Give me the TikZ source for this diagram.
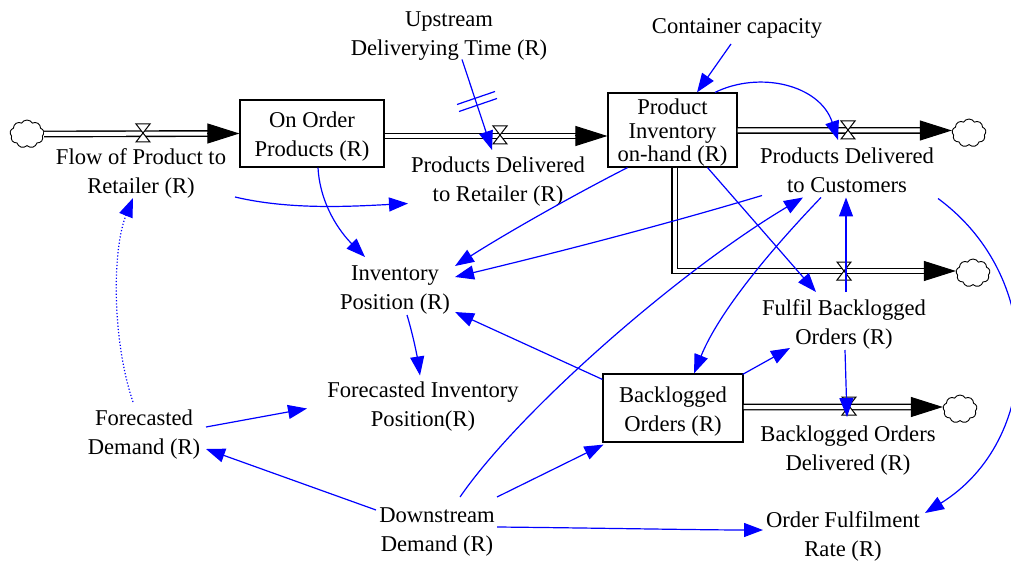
\documentclass[tikz,border=0pt]{standalone}
\usepackage{fontspec}
\setmainfont{Liberation Serif}
\usetikzlibrary{calc,arrows.meta,shapes.symbols}

\begin{document}
\begin{tikzpicture}[x=0.5pt,y=-0.5pt,
  lbl/.style={align=center,inner sep=0pt,font=\fontsize{11.3}{14.5}\selectfont,text height=26pt,text depth=3pt},
  stock/.style={lbl,draw,line width=0.6pt},
  sink/.style={cloud,cloud puffs=9,cloud puff arc=120,cloud ignores aspect,draw,line width=0.45pt,minimum width=17pt,minimum height=14pt,inner sep=0pt},
  pipe/.style={double=white,double distance=2pt,line width=0.7pt},
  pipehead/.style={line width=0.5pt,-{Triangle[length=16pt,width=10pt]}},
  link/.style={blue,line width=0.6pt,-{Triangle[length=9.5pt,width=7pt]}},
  valve/.pic={\draw[fill=white,line width=0.5pt] (-7,-9) -- (7,-9) -- (-7,9) -- (7,9) -- cycle; \coordinate (-c) at (0,0);}]
  \useasboundingbox (0,0) rectangle (1011,561);
  % stocks
  \node[stock,minimum width=72pt,minimum height=33.5pt] (oo) at (312,133.5) {On Order\\Products (R)};
  \node[stock,minimum width=64.5pt,minimum height=37pt,font=\fontsize{11.3}{11.8}\selectfont,text height=33pt,text depth=1pt] (pi) at (672.5,130) {Product\\Inventory\\on-hand (R)};
  \node[stock,minimum width=70pt,minimum height=34pt] (bo) at (673,408) {Backlogged\\Orders (R)};
  % clouds
  \node[sink] (c1) at (27,134) {};
  \node[sink] (c2) at (969,133) {};
  \node[sink] (c3) at (973,273) {};
  \node[sink] (c4) at (960,409) {};
  % flows
  \draw[pipe] (c1.east) -- ($(oo.west)+(-30,0)$);
  \draw[pipehead] ($(oo.west)+(-32,0)$) -- (oo.west);
  \draw[pipe] ($(oo.east)+(0,2.5)$) -- ($(pi.west)+(-30,6)$);
  \draw[pipehead] ($(pi.west)+(-32,6)$) -- ($(pi.west)+(0,6)$);
  \draw[pipe] ($(pi.east)+(0,0.5)$) -- ($(c2.west)+(-30,-2.5)$);
  \draw[pipehead] ($(c2.west)+(-32,-2.5)$) -- ($(c2.west)+(0,-2.5)$);
  \draw[pipe] ($(pi.south)+(2,0)$) |- ($(c3.west)+(-30,-2)$);
  \draw[pipehead] ($(c3.west)+(-32,-2)$) -- ($(c3.west)+(0,-2)$);
  \draw[pipe] ($(bo.east)+(0,-1)$) -- ($(c4.west)+(-30,-2)$);
  \draw[pipehead] ($(c4.west)+(-32,-2)$) -- ($(c4.west)+(0,-2)$);
  \pic (v1) at (143,133) {valve};
  \pic (v2) at (500,135) {valve};
  \pic (v3) at (848,130) {valve};
  \pic (v4) at (844,271) {valve};
  \pic (v5) at (849,406) {valve};
  % rates and auxiliaries
  \node[lbl] (fpr) at (141,171) {Flow of Product to\\Retailer (R)};
  \node[lbl] (pdr) at (498,178.5) {Products Delivered\\to Retailer (R)};
  \node[lbl] (pdc) at (847,169.5) {Products Delivered\\to Customers};
  \node[lbl] (fbo) at (844,321) {Fulfil Backlogged\\Orders (R)};
  \node[lbl] (bod) at (848,447.5) {Backlogged Orders\\Delivered (R)};
  \node[lbl] (udt) at (449,32.5) {Upstream\\Deliverying Time (R)};
  \node[lbl,text height=9.5pt] (cc) at (737,27.5) {Container capacity};
  \node[lbl] (ip) at (395,286) {Inventory\\Position (R)};
  \node[lbl] (fip) at (423,403.5) {Forecasted Inventory\\Position(R)};
  \node[lbl] (fd) at (144,431) {Forecasted\\Demand (R)};
  \node[lbl] (dd) at (437,528) {Downstream\\Demand (R)};
  \node[lbl] (ofr) at (843,533.5) {Order Fulfilment\\Rate (R)};
  % causal links
  \draw[link] ($(udt)+(13,27)$) -- ($(v2-c)+(-8,15)$);
  \draw[blue,line width=0.6pt] ($(udt)+(8,72)$) -- ($(udt)+(46,59)$) ($(udt)+(10,79)$) -- ($(udt)+(48,66)$);
  \draw[link] ($(cc)+(-6,16.5)$) -- ($(pi.north)+(24.5,0)$);
  \draw[link] ($(pi.north)+(42.5,0)$) .. controls +(45,-22) and +(-18,-55) .. ($(v3-c)+(-10,10)$);
  \draw[link] ($(fpr)+(94,26)$) .. controls +(55,13) and +(-58,3) .. ($(pdr)+(-90,25)$);
  \draw[link] ($(oo.south)+(6,0)$) .. controls +(2,37) and +(-25,-25) .. ($(ip)+(-30,-29)$);
  \draw[link] ($(pi.south)+(-45,0)$) .. controls +(-55,28) and +(50,-32) .. ($(ip)+(60,-20)$);
  \draw[link] ($(pdc)+(-85,26)$) .. controls +(-100,30) and +(100,-24) .. ($(ip)+(60,-9)$);
  \draw[link] ($(bo.north west)+(0,6)$) -- ($(ip)+(60,26)$);
  \draw[link] ($(ip)+(12,29)$) .. controls +(6,20) and +(-3,-20) .. ($(fip)+(-3,-28)$);
  \draw[link] ($(fd)+(62,-4)$) -- ($(fip)+(-116,5)$);
  \draw[link,densely dotted] ($(fd)+(-11,-29)$) .. controls +(-21,-62) and +(-21,52) .. ($(fpr)+(-8,27)$);
  \draw[link] ($(pdc)+(-26,28)$) .. controls +(-46,48) and +(26,-64) .. ($(bo.north)+(21,0)$);
  \draw[link] ($(pi.south)+(35,0)$) -- ($(fbo)+(-28,-29)$);
  \draw[link] ($(bo.north east)+(-1,1)$) -- ($(fbo)+(-54,27)$);
  \draw[link] ($(fbo)+(2,-29)$) -- ($(pdc)+(-1,28)$);
  \draw[link] ($(fbo)+(1,29)$) -- ($(v5-c)+(-2,11)$);
  \draw[link] ($(dd)+(23,-31)$) .. controls +(60,-87) and +(-123,73) .. ($(pdc)+(-44,28)$);
  \draw[link] ($(dd)+(60,-31)$) -- ($(bo.south west)+(1,2)$);
  \draw[link] ($(dd)+(-61,-18)$) -- ($(fd)+(62,18)$);
  \draw[link] ($(dd)+(60,-1)$) .. controls +(100,1) and +(-60,0) .. ($(ofr)+(-80,-3.5)$);
  \draw[link] ($(pdc)+(91,29)$) .. controls +(110,81) and +(116,-72) .. ($(ofr)+(82,-20.5)$);
\end{tikzpicture}
\end{document}
